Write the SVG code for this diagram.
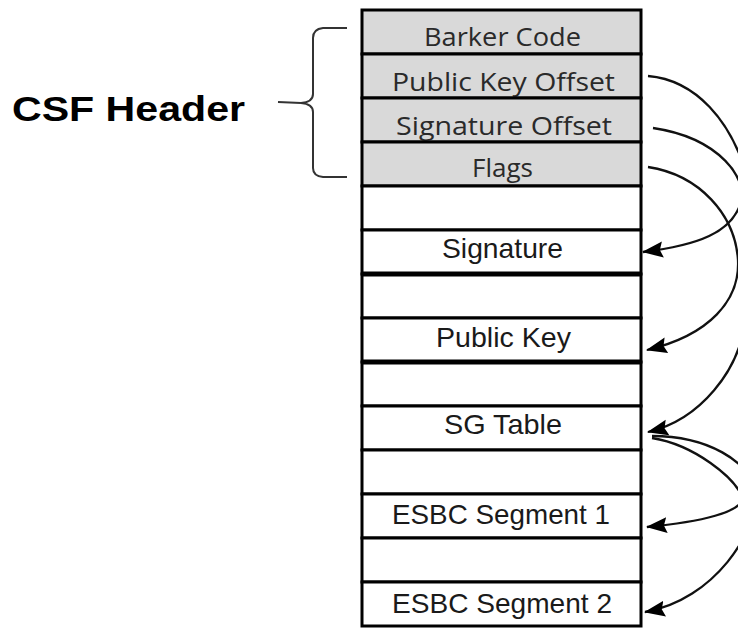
<svg xmlns="http://www.w3.org/2000/svg" width="738" height="628" viewBox="0 0 738 628">
<defs>
<style>
.row{stroke:#000;stroke-width:3;fill:#fff}
.hdr{fill:#d9d9d9}
.ht{font-family:"Open Sans","Noto Sans",sans-serif;font-size:26px;fill:#2a2a2a;text-anchor:middle}
.bt{font-family:"Liberation Sans",Arial,sans-serif;font-size:28px;fill:#1a1a1a;text-anchor:middle}
.conn{fill:none;stroke:#111;stroke-width:2.3}
.brace{fill:none;stroke:#333;stroke-width:2}
</style>
<marker id="arr" markerUnits="userSpaceOnUse" markerWidth="21" markerHeight="18" viewBox="0 0 21 18" refX="20" refY="9" orient="auto">
<path d="M0,1 L21,9 L0,17 L3,9 z" fill="#000"/>
</marker>
</defs>
<rect width="738" height="628" fill="#fff"/>

<g id="csf-header-label">
<text x="12" y="121" font-family="Liberation Sans, Arial, sans-serif" font-weight="bold" font-size="35" fill="#000" textLength="233" lengthAdjust="spacingAndGlyphs">CSF Header</text>
</g>
<g id="brace">
<path class="brace" d="M347,28 L323,28 Q313,29 313,38 L313,94 Q313,102 301,103 Q313,104 313,112 L313,168 Q313,176 323,177 L347,177"/>
<path class="brace" d="M278,102 L301,103"/>
</g>

<g id="barker-code"><rect class="row hdr" x="362" y="10" width="279" height="44"/><text class="ht" x="502.5" y="46" textLength="157" lengthAdjust="spacingAndGlyphs">Barker Code</text></g>
<g id="public-key-offset"><rect class="row hdr" x="362" y="54" width="279" height="44"/><text class="ht" x="503.5" y="91" textLength="223" lengthAdjust="spacingAndGlyphs">Public Key Offset</text></g>
<g id="signature-offset"><rect class="row hdr" x="362" y="98" width="279" height="44"/><text class="ht" x="504" y="135" textLength="216" lengthAdjust="spacingAndGlyphs">Signature Offset</text></g>
<g id="flags"><rect class="row hdr" x="362" y="142" width="279" height="44"/><text class="ht" x="502.5" y="177" textLength="61" lengthAdjust="spacingAndGlyphs">Flags</text></g>
<g id="empty-1"><rect class="row" x="362" y="186" width="279" height="44"/></g>
<g id="signature"><rect class="row" x="362" y="230" width="279" height="44"/><text class="bt" x="502.5" y="258" textLength="121" lengthAdjust="spacingAndGlyphs">Signature</text></g>
<g id="empty-2"><rect class="row" x="362" y="274" width="279" height="44"/></g>
<g id="public-key"><rect class="row" x="362" y="318" width="279" height="44"/><text class="bt" x="503.5" y="347" textLength="135" lengthAdjust="spacingAndGlyphs">Public Key</text></g>
<g id="empty-3"><rect class="row" x="362" y="362" width="279" height="44"/></g>
<g id="sg-table"><rect class="row" x="362" y="406" width="279" height="44"/><text class="bt" x="503" y="434" textLength="118" lengthAdjust="spacingAndGlyphs">SG Table</text></g>
<g id="empty-4"><rect class="row" x="362" y="450" width="279" height="44"/></g>
<g id="esbc-segment-1"><rect class="row" x="362" y="494" width="279" height="44"/><text class="bt" x="501" y="524" textLength="218" lengthAdjust="spacingAndGlyphs">ESBC Segment 1</text></g>
<g id="empty-5"><rect class="row" x="362" y="538" width="279" height="44"/></g>
<g id="esbc-segment-2"><rect class="row" x="362" y="582" width="279" height="44"/><text class="bt" x="502" y="613" textLength="220" lengthAdjust="spacingAndGlyphs">ESBC Segment 2</text></g>
<g id="thick-separators" stroke="#000" stroke-width="5">
<line x1="362" y1="274" x2="641" y2="274"/>
<line x1="362" y1="362" x2="641" y2="362"/>
</g>

<g id="connectors">
<path class="conn" marker-end="url(#arr)" d="M648,76 C695,80 732,120 748,180 C760,230 752,290 745,320 C740,370 700,420 648,432"/>
<path class="conn" marker-end="url(#arr)" d="M653,128 C720,138 750,180 740,205 C730,232 700,245 643,252"/>
<path class="conn" marker-end="url(#arr)" d="M648,167 C700,175 735,215 738,260 C740,300 710,335 647,350"/>
<path class="conn" marker-end="url(#arr)" d="M652,438 C695,445 735,478 742,497 C744,512 700,522 647,527"/>
<path class="conn" marker-end="url(#arr)" d="M652,436 C705,436 752,460 755,495 C758,530 715,600 645,612"/>
</g>
</svg>
